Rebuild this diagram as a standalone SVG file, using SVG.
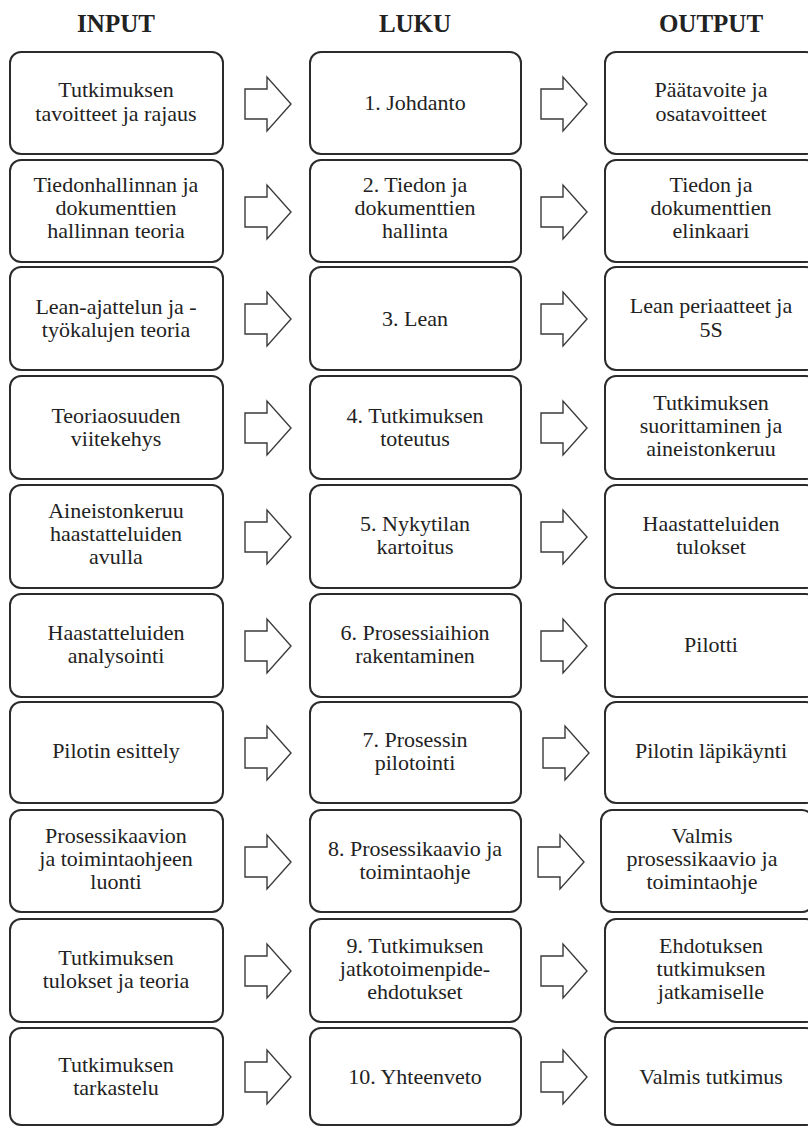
<svg xmlns="http://www.w3.org/2000/svg" width="808" height="1127" viewBox="0 0 808 1127">
  <style>
    text { font-family: 'Liberation Serif', 'Times New Roman', serif !important; fill: #222; text-anchor: middle; }
    .hdr { font-weight: bold; font-size: 25px; }
    .nt { font-size: 22px; font-weight: normal; }
    .box { fill: #fff; stroke: #2b2b2b; stroke-width: 2; }
    .arr { fill: #fff; stroke: #3a3a3a; stroke-width: 1.4; stroke-linejoin: miter; }
  </style>
  <defs>
    <!-- block arrow, origin at its left end, vertical centre -->
    <polygon id="blk" points="0,-15 22,-15 22,-27 46,0 22,27 22,15 0,15"/>
  </defs>
  <rect width="808" height="1127" fill="#fff"/>

  <!-- column headings -->
  <g id="headings">
    <text class="hdr" x="116" y="32">INPUT</text>
    <text class="hdr" x="415" y="32">LUKU</text>
    <text class="hdr" x="711" y="32">OUTPUT</text>
  </g>

  <!-- connectors: block arrows between columns -->
  <g id="connectors">
    <use href="#blk" class="arr" x="245" y="104"/>
    <use href="#blk" class="arr" x="541" y="104"/>
    <use href="#blk" class="arr" x="245" y="212"/>
    <use href="#blk" class="arr" x="541" y="212"/>
    <use href="#blk" class="arr" x="245" y="319"/>
    <use href="#blk" class="arr" x="541" y="319"/>
    <use href="#blk" class="arr" x="245" y="428"/>
    <use href="#blk" class="arr" x="541" y="428"/>
    <use href="#blk" class="arr" x="245" y="537"/>
    <use href="#blk" class="arr" x="541" y="537"/>
    <use href="#blk" class="arr" x="245" y="646"/>
    <use href="#blk" class="arr" x="541" y="646"/>
    <use href="#blk" class="arr" x="245" y="753"/>
    <use href="#blk" class="arr" x="543" y="753"/>
    <use href="#blk" class="arr" x="245" y="862"/>
    <use href="#blk" class="arr" x="538" y="862"/>
    <use href="#blk" class="arr" x="245" y="971"/>
    <use href="#blk" class="arr" x="541" y="971"/>
    <use href="#blk" class="arr" x="245" y="1077"/>
    <use href="#blk" class="arr" x="541" y="1077"/>
  </g>

  <!-- row 1 -->
  <g id="in1"><rect class="box" x="10" y="52" width="213" height="102" rx="11"/>
    <text class="nt" x="116" y="97">Tutkimuksen</text><text class="nt" x="116" y="121">tavoitteet ja rajaus</text></g>
  <g id="ch1"><rect class="box" x="310" y="52" width="211" height="102" rx="11"/>
    <text class="nt" x="415" y="110">1. Johdanto</text></g>
  <g id="out1"><rect class="box" x="605" y="52" width="212" height="102" rx="11"/>
    <text class="nt" x="711" y="97">Päätavoite ja</text><text class="nt" x="711" y="121">osatavoitteet</text></g>

  <!-- row 2 -->
  <g id="in2"><rect class="box" x="10" y="160" width="213" height="102" rx="11"/>
    <text class="nt" x="116" y="192">Tiedonhallinnan ja</text><text class="nt" x="116" y="215">dokumenttien</text><text class="nt" x="116" y="238">hallinnan teoria</text></g>
  <g id="ch2"><rect class="box" x="310" y="160" width="211" height="102" rx="11"/>
    <text class="nt" x="415" y="192">2. Tiedon ja</text><text class="nt" x="415" y="215">dokumenttien</text><text class="nt" x="415" y="238">hallinta</text></g>
  <g id="out2"><rect class="box" x="605" y="160" width="212" height="102" rx="11"/>
    <text class="nt" x="711" y="192">Tiedon ja</text><text class="nt" x="711" y="215">dokumenttien</text><text class="nt" x="711" y="238">elinkaari</text></g>

  <!-- row 3 -->
  <g id="in3"><rect class="box" x="10" y="267" width="213" height="103" rx="11"/>
    <text class="nt" x="116" y="314">Lean-ajattelun ja -</text><text class="nt" x="116" y="337">työkalujen teoria</text></g>
  <g id="ch3"><rect class="box" x="310" y="267" width="211" height="103" rx="11"/>
    <text class="nt" x="415" y="326">3. Lean</text></g>
  <g id="out3"><rect class="box" x="605" y="267" width="212" height="103" rx="11"/>
    <text class="nt" x="711" y="313">Lean periaatteet ja</text><text class="nt" x="711" y="337">5S</text></g>

  <!-- row 4 -->
  <g id="in4"><rect class="box" x="10" y="376" width="213" height="103" rx="11"/>
    <text class="nt" x="116" y="423">Teoriaosuuden</text><text class="nt" x="116" y="446">viitekehys</text></g>
  <g id="ch4"><rect class="box" x="310" y="376" width="211" height="103" rx="11"/>
    <text class="nt" x="415" y="423">4. Tutkimuksen</text><text class="nt" x="415" y="446">toteutus</text></g>
  <g id="out4"><rect class="box" x="605" y="376" width="212" height="103" rx="11"/>
    <text class="nt" x="711" y="410">Tutkimuksen</text><text class="nt" x="711" y="433">suorittaminen ja</text><text class="nt" x="711" y="456">aineistonkeruu</text></g>

  <!-- row 5 -->
  <g id="in5"><rect class="box" x="10" y="485" width="213" height="103" rx="11"/>
    <text class="nt" x="116" y="518">Aineistonkeruu</text><text class="nt" x="116" y="541">haastatteluiden</text><text class="nt" x="116" y="564">avulla</text></g>
  <g id="ch5"><rect class="box" x="310" y="485" width="211" height="103" rx="11"/>
    <text class="nt" x="415" y="531">5. Nykytilan</text><text class="nt" x="415" y="554">kartoitus</text></g>
  <g id="out5"><rect class="box" x="605" y="485" width="212" height="103" rx="11"/>
    <text class="nt" x="711" y="531">Haastatteluiden</text><text class="nt" x="711" y="554">tulokset</text></g>

  <!-- row 6 -->
  <g id="in6"><rect class="box" x="10" y="594" width="213" height="103" rx="11"/>
    <text class="nt" x="116" y="640">Haastatteluiden</text><text class="nt" x="116" y="663">analysointi</text></g>
  <g id="ch6"><rect class="box" x="310" y="594" width="211" height="103" rx="11"/>
    <text class="nt" x="415" y="640">6. Prosessiaihion</text><text class="nt" x="415" y="663">rakentaminen</text></g>
  <g id="out6"><rect class="box" x="605" y="594" width="212" height="103" rx="11"/>
    <text class="nt" x="711" y="652">Pilotti</text></g>

  <!-- row 7 -->
  <g id="in7"><rect class="box" x="10" y="702" width="213" height="101" rx="11"/>
    <text class="nt" x="116" y="758">Pilotin esittely</text></g>
  <g id="ch7"><rect class="box" x="310" y="702" width="211" height="101" rx="11"/>
    <text class="nt" x="415" y="747">7. Prosessin</text><text class="nt" x="415" y="770">pilotointi</text></g>
  <g id="out7"><rect class="box" x="605" y="702" width="212" height="101" rx="11"/>
    <text class="nt" x="711" y="758">Pilotin läpikäynti</text></g>

  <!-- row 8 -->
  <g id="in8"><rect class="box" x="10" y="810" width="213" height="102" rx="11"/>
    <text class="nt" x="116" y="843">Prosessikaavion</text><text class="nt" x="116" y="866">ja toimintaohjeen</text><text class="nt" x="116" y="889">luonti</text></g>
  <g id="ch8"><rect class="box" x="310" y="810" width="211" height="102" rx="11"/>
    <text class="nt" x="415" y="856">8. Prosessikaavio ja</text><text class="nt" x="415" y="879">toimintaohje</text></g>
  <g id="out8"><rect class="box" x="601" y="810" width="212" height="102" rx="11"/>
    <text class="nt" x="702" y="843">Valmis</text><text class="nt" x="702" y="866">prosessikaavio ja</text><text class="nt" x="702" y="889">toimintaohje</text></g>

  <!-- row 9 -->
  <g id="in9"><rect class="box" x="10" y="919" width="213" height="103" rx="11"/>
    <text class="nt" x="116" y="965">Tutkimuksen</text><text class="nt" x="116" y="988">tulokset ja teoria</text></g>
  <g id="ch9"><rect class="box" x="310" y="919" width="211" height="103" rx="11"/>
    <text class="nt" x="415" y="953">9. Tutkimuksen</text><text class="nt" x="415" y="976">jatkotoimenpide-</text><text class="nt" x="415" y="999">ehdotukset</text></g>
  <g id="out9"><rect class="box" x="605" y="919" width="212" height="103" rx="11"/>
    <text class="nt" x="711" y="953">Ehdotuksen</text><text class="nt" x="711" y="976">tutkimuksen</text><text class="nt" x="711" y="999">jatkamiselle</text></g>

  <!-- row 10 -->
  <g id="in10"><rect class="box" x="10" y="1028" width="213" height="97" rx="11"/>
    <text class="nt" x="116" y="1072">Tutkimuksen</text><text class="nt" x="116" y="1095">tarkastelu</text></g>
  <g id="ch10"><rect class="box" x="310" y="1028" width="211" height="97" rx="11"/>
    <text class="nt" x="415" y="1084">10. Yhteenveto</text></g>
  <g id="out10"><rect class="box" x="605" y="1028" width="212" height="97" rx="11"/>
    <text class="nt" x="711" y="1084">Valmis tutkimus</text></g>
</svg>
